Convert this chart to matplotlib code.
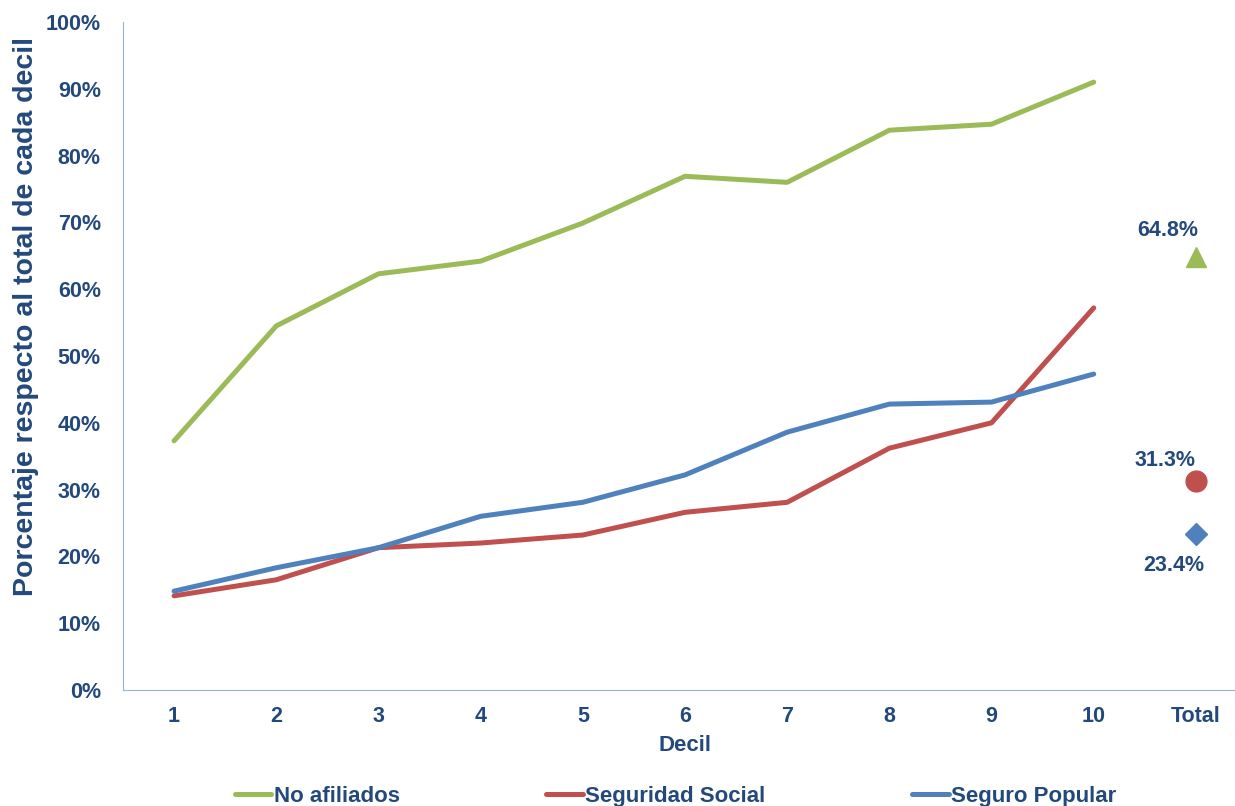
import matplotlib.pyplot as plt
import numpy as np

plt.rcParams['font.family'] = ['Liberation Sans', 'DejaVu Sans']

deciles = ['1', '2', '3', '4', '5', '6', '7', '8', '9', '10']
cat_labels = deciles + ['Total']

no_afiliados = [37.3, 54.5, 62.3, 64.2, 69.9, 76.9, 76.0, 83.8, 84.7, 91.0]
seguridad_social = [14.1, 16.5, 21.3, 22.0, 23.2, 26.6, 28.1, 36.2, 40.0, 57.2]
seguro_popular = [14.8, 18.3, 21.3, 26.0, 28.1, 32.2, 38.6, 42.8, 43.1, 47.3]

totals = [64.8, 31.3, 23.4]

navy = '#23497C'
green = '#9BBB59'
red = '#C0504D'
blue = '#4F81BD'

fig = plt.figure(figsize=(12.35, 8.06), dpi=100)
ax = fig.add_axes([123 / 1235, 1 - 690 / 806, 1124 / 1235, 668 / 806])

x = np.arange(len(deciles))
ax.plot(x, no_afiliados, color=green, lw=3.6, label='No afiliados', solid_capstyle='round')
ax.plot(x, seguridad_social, color=red, lw=3.6, label='Seguridad Social', solid_capstyle='round')
ax.plot(x, seguro_popular, color=blue, lw=3.6, label='Seguro Popular', solid_capstyle='round')

xt = len(deciles)
ax.plot(xt, totals[0], marker='^', color=green, ms=15, ls='none')
ax.plot(xt, totals[1], marker='o', color=red, ms=15, ls='none')
ax.plot(xt, totals[2], marker='D', color=blue, ms=11, ls='none')

ax.text(xt - 0.28, totals[0] + 4.0, '64.8%', ha='center', va='center',
        color=navy, fontsize=15.5, fontweight='bold')
ax.text(xt - 0.3, totals[1] + 3.1, '31.3%', ha='center', va='center',
        color=navy, fontsize=15.5, fontweight='bold')
ax.text(xt - 0.22, totals[2] - 4.7, '23.4%', ha='center', va='center',
        color=navy, fontsize=15.5, fontweight='bold')

ax.set_xlim(-0.5, len(cat_labels) - 0.5)
ax.set_ylim(0, 100)
ax.set_xticks(np.arange(len(cat_labels)))
ax.set_xticklabels(cat_labels)
ax.set_yticks(np.arange(0, 101, 10))
ax.set_yticklabels([f'{v}%' for v in range(0, 101, 10)])

for lab in ax.get_xticklabels() + ax.get_yticklabels():
    lab.set_color(navy)
    lab.set_fontweight('bold')
    lab.set_fontsize(15.5)

ax.tick_params(axis='x', length=0, pad=11.5)
ax.tick_params(axis='y', length=0, pad=16)

ax.spines['top'].set_visible(False)
ax.spines['right'].set_visible(False)
ax.spines['left'].set_color('#95B3D7')
ax.spines['bottom'].set_color('#95B3D7')

ax.set_xlabel('Decil', color=navy, fontweight='bold', fontsize=16, labelpad=6)
ax.set_ylabel('Porcentaje respecto al total de cada decil', color=navy,
              fontweight='bold', fontsize=20.5)
ax.yaxis.set_label_coords(-84 / 1124, (690 - 317) / 668)

leg = fig.legend(loc='center', bbox_to_anchor=(0.547, 0.012), ncol=3, frameon=False,
                 fontsize=16, handlelength=1.65, handletextpad=0.1, columnspacing=6.6)
for t in leg.get_texts():
    t.set_color(navy)
    t.set_fontweight('bold')

fig.savefig('out.png', dpi=100)
